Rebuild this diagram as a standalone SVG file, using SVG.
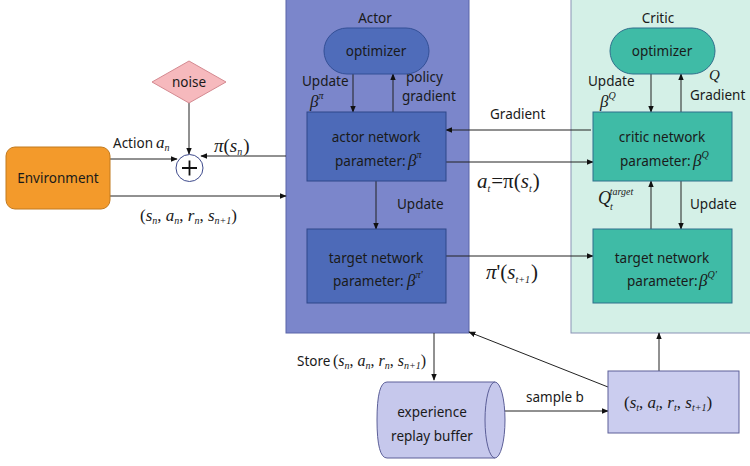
<svg xmlns="http://www.w3.org/2000/svg" width="750" height="466" viewBox="0 0 750 466">
  <defs>
    <marker id="arr" viewBox="0 0 10 10" refX="9" refY="5" markerWidth="7" markerHeight="7" orient="auto-start-reverse" markerUnits="userSpaceOnUse">
      <path d="M0,1 L10,5 L0,9 z" fill="#111"/>
    </marker>
    <style>
      .lbl { font-family: "Noto Sans", "Open Sans", "Liberation Sans", sans-serif; font-size: 13.5px; fill: #1a1a1a; }
      .mid { text-anchor: middle; }
      .math { font-family: "Liberation Serif", "DejaVu Serif", serif; font-style: italic; fill: #1a1a1a; }
      .up { font-family: "Liberation Serif", "DejaVu Serif", serif; font-style: normal; fill: #1a1a1a; }
      .sub { font-size: 10px; }
      .line { stroke: #222; stroke-width: 1; fill: none; }
      .actorBox { fill: #4d6ab8; stroke: #2e4789; stroke-width: 1; }
      .criticBox { fill: #3fbba6; stroke: #2f6f8c; stroke-width: 1; }
    </style>
  </defs>

  <rect width="750" height="466" fill="#ffffff"/>

  <!-- panels -->
  <g id="actor-panel">
    <rect x="286" y="-2" width="183" height="335" fill="#7b86cb" stroke="#5a64a8" stroke-width="1"/>
    <text class="lbl mid" x="375" y="23">Actor</text>
  </g>
  <g id="critic-panel">
    <rect x="571" y="-2" width="185" height="335" fill="#d4f0e7" stroke="#8a93b5" stroke-width="1"/>
    <text class="lbl mid" x="658" y="23">Critic</text>
  </g>

  <!-- connectors -->
  <g id="connectors">
    <!-- actor optimizer <-> actor network -->
    <line class="line" x1="353" y1="74" x2="353" y2="112" marker-end="url(#arr)"/>
    <line class="line" x1="393" y1="112" x2="393" y2="74" marker-end="url(#arr)"/>
    <!-- actor network -> actor target -->
    <line class="line" x1="376" y1="181" x2="376" y2="229" marker-end="url(#arr)"/>
    <!-- critic optimizer <-> critic network -->
    <line class="line" x1="651" y1="74" x2="651" y2="112" marker-end="url(#arr)"/>
    <line class="line" x1="681" y1="112" x2="681" y2="74" marker-end="url(#arr)"/>
    <!-- critic target <-> critic network -->
    <line class="line" x1="651" y1="229" x2="651" y2="181" marker-end="url(#arr)"/>
    <line class="line" x1="681" y1="181" x2="681" y2="229" marker-end="url(#arr)"/>
    <!-- gradient critic -> actor -->
    <line class="line" x1="591" y1="130" x2="446" y2="130" marker-end="url(#arr)"/>
    <!-- a_t = pi(s_t) -->
    <line class="line" x1="446" y1="162" x2="593" y2="162" marker-end="url(#arr)"/>
    <!-- pi'(s_t+1) -->
    <line class="line" x1="446" y1="256" x2="593" y2="256" marker-end="url(#arr)"/>
    <!-- noise -> plus -->
    <line class="line" x1="189" y1="103" x2="189" y2="154" marker-end="url(#arr)"/>
    <!-- environment action -> plus -->
    <line class="line" x1="110" y1="159" x2="177" y2="159" marker-end="url(#arr)"/>
    <!-- actor -> plus -->
    <line class="line" x1="286" y1="156" x2="201" y2="156" marker-end="url(#arr)"/>
    <!-- environment -> actor -->
    <line class="line" x1="110" y1="196" x2="286" y2="196" marker-end="url(#arr)"/>
    <!-- store -->
    <line class="line" x1="434" y1="333" x2="434" y2="380" marker-end="url(#arr)"/>
    <!-- sample b -->
    <line class="line" x1="505" y1="411" x2="608" y2="411" marker-end="url(#arr)"/>
    <!-- sample -> actor -->
    <line class="line" x1="608" y1="387" x2="469" y2="332" marker-end="url(#arr)"/>
    <!-- sample -> critic -->
    <line class="line" x1="659" y1="371" x2="659" y2="333" marker-end="url(#arr)"/>
  </g>

  <!-- connector labels -->
  <g id="labels">
    <text class="lbl" x="302" y="86">Update</text>
    <text class="math" x="310" y="107" font-size="17">β<tspan class="sub" dy="-8">π</tspan></text>
    <text class="lbl" x="406" y="82">policy</text>
    <text class="lbl" x="402" y="101">gradient</text>

    <text class="lbl" x="397" y="209">Update</text>

    <text class="lbl" x="588" y="86">Update</text>
    <text class="math" x="600" y="107" font-size="17">β<tspan class="sub" dy="-8">Q</tspan></text>
    <text class="math" x="709" y="80" font-size="15">Q</text>
    <text class="lbl" x="690" y="100">Gradient</text>

    <text class="math" x="598" y="204" font-size="18">Q<tspan class="sub" dy="6" dx="-1">t</tspan><tspan class="sub" dy="-15" dx="-3">target</tspan></text>
    <text class="lbl" x="690" y="209">Update</text>

    <text class="lbl" x="490" y="119">Gradient</text>
    <text class="math" x="477" y="188" font-size="21">a<tspan class="sub" dy="4">t</tspan><tspan class="up" dy="-4" dx="1">=π(</tspan>s<tspan class="sub" dy="4">t</tspan><tspan class="up" dy="-4" dx="1">)</tspan></text>
    <text class="math" x="486" y="279" font-size="21">π<tspan class="up">'(</tspan>s<tspan class="sub" dy="4">t+1</tspan><tspan class="up" dy="-4" dx="1">)</tspan></text>

    <text class="lbl" x="113" y="148">Action</text>
    <text class="math" x="156" y="148" font-size="17">a<tspan class="sub" dy="3">n</tspan></text>
    <text class="math" x="214" y="152" font-size="19">π<tspan class="up">(</tspan>s<tspan class="sub" dy="3">n</tspan><tspan class="up" dy="-3" dx="1">)</tspan></text>
    <text class="math" x="140" y="221" font-size="17"><tspan class="up">(</tspan>s<tspan class="sub" dy="3">n</tspan><tspan class="up" dy="-3">, </tspan>a<tspan class="sub" dy="3">n</tspan><tspan class="up" dy="-3">, </tspan>r<tspan class="sub" dy="3">n</tspan><tspan class="up" dy="-3">, </tspan>s<tspan class="sub" dy="3">n+1</tspan><tspan class="up" dy="-3">)</tspan></text>

    <text class="lbl" x="297" y="366">Store</text>
    <text class="math" x="333" y="366" font-size="16"><tspan class="up">(</tspan>s<tspan class="sub" dy="3">n</tspan><tspan class="up" dy="-3">, </tspan>a<tspan class="sub" dy="3">n</tspan><tspan class="up" dy="-3">, </tspan>r<tspan class="sub" dy="3">n</tspan><tspan class="up" dy="-3">, </tspan>s<tspan class="sub" dy="3">n+1</tspan><tspan class="up" dy="-3">)</tspan></text>

    <text class="lbl" x="526" y="402">sample b</text>
  </g>

  <!-- nodes -->
  <g id="actor-optimizer">
    <rect x="324" y="28" width="105" height="46" rx="23" ry="23" fill="#4f6cba" stroke="#334f96" stroke-width="1"/>
    <text class="lbl mid" x="376" y="56">optimizer</text>
  </g>
  <g id="actor-network">
    <rect class="actorBox" x="307" y="112" width="139" height="69"/>
    <text class="lbl mid" x="376" y="142">actor network</text>
    <text class="lbl" x="335" y="166">parameter:</text>
    <text class="math" x="408" y="166" font-size="17">β<tspan class="sub" dy="-8">π</tspan></text>
  </g>
  <g id="actor-target">
    <rect class="actorBox" x="307" y="229" width="139" height="74"/>
    <text class="lbl mid" x="376" y="263">target network</text>
    <text class="lbl" x="333" y="286">parameter:</text>
    <text class="math" x="407" y="286" font-size="17">β<tspan class="sub" dy="-8">π'</tspan></text>
  </g>
  <g id="critic-optimizer">
    <rect x="610" y="28" width="105" height="46" rx="23" ry="23" fill="#3fbba6" stroke="#2f6f8c" stroke-width="1"/>
    <text class="lbl mid" x="662" y="56">optimizer</text>
  </g>
  <g id="critic-network">
    <rect class="criticBox" x="593" y="112" width="139" height="69"/>
    <text class="lbl mid" x="662" y="142">critic network</text>
    <text class="lbl" x="620" y="166">parameter:</text>
    <text class="math" x="693" y="166" font-size="17">β<tspan class="sub" dy="-8">Q</tspan></text>
  </g>
  <g id="critic-target">
    <rect class="criticBox" x="593" y="229" width="139" height="74"/>
    <text class="lbl mid" x="662" y="263">target network</text>
    <text class="lbl" x="627" y="286">parameter:</text>
    <text class="math" x="699" y="286" font-size="17">β<tspan class="sub" dy="-8">Q'</tspan></text>
  </g>
  <g id="noise">
    <polygon points="189,61 226,82 189,103 152,82" fill="#f6b9bd" stroke="#d48a91" stroke-width="1"/>
    <text class="lbl mid" x="189" y="87">noise</text>
  </g>
  <g id="sum">
    <circle cx="189.5" cy="168" r="13.5" fill="#ffffff" stroke="#3e4a8c" stroke-width="1"/>
    <path d="M182,168 H197 M189.5,160.5 V175.5" stroke="#111" stroke-width="1.8"/>
  </g>
  <g id="environment">
    <rect x="6" y="147" width="104" height="62" rx="9" ry="9" fill="#f39a2b" stroke="#c27a1f" stroke-width="1"/>
    <text class="lbl mid" x="58" y="183">Environment</text>
  </g>
  <g id="replay-buffer">
    <path d="M495,382 H387 Q377,382 377,420 Q377,458 387,458 H495" fill="#c6c8ec" stroke="#5c5f98" stroke-width="1"/>
    <ellipse cx="495" cy="420" rx="10" ry="38" fill="#c6c8ec" stroke="#5c5f98" stroke-width="1"/>
    <text class="lbl mid" x="432" y="417">experience</text>
    <text class="lbl mid" x="432" y="441">replay buffer</text>
  </g>
  <g id="sample">
    <rect x="608" y="371" width="131" height="62" fill="#cbcdef" stroke="#5c5f98" stroke-width="1"/>
    <text class="math" x="624" y="408" font-size="17"><tspan class="up">(</tspan>s<tspan class="sub" dy="3">t</tspan><tspan class="up" dy="-3">, </tspan>a<tspan class="sub" dy="3">t</tspan><tspan class="up" dy="-3">, </tspan>r<tspan class="sub" dy="3">t</tspan><tspan class="up" dy="-3">, </tspan>s<tspan class="sub" dy="3">t+1</tspan><tspan class="up" dy="-3">)</tspan></text>
  </g>
</svg>
